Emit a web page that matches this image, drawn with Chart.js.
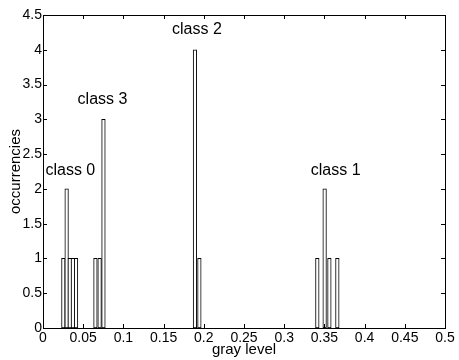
<!DOCTYPE html>
<html>
<head>
<meta charset="utf-8">
<title>gray level histogram</title>
<script src="https://cdn.jsdelivr.net/npm/chart.js@4/dist/chart.umd.min.js"></script>
<style>
  html, body { margin: 0; padding: 0; background: #fff; }
  #wrap { width: 459px; height: 360px; }
</style>
</head>
<body>
<div id="wrap"><canvas id="hist"></canvas></div>
<script>
/* ── Data: histogram bins (centre gray level, count) ── */
const grayLevels = [
  0.0253, 0.0294, 0.0333, 0.0372, 0.0411,   // class 0
  0.0652, 0.0704, 0.0752,                   // class 3
  0.1890, 0.1945,                           // class 2
  0.3412, 0.3503, 0.3562, 0.3661            // class 1
];
const counts = [
  1, 2, 1, 1, 1,
  1, 1, 3,
  4, 1,
  1, 2, 1, 1
];

/* ── Class labels (data coords) ── */
const classNames  = ['class 0', 'class 1', 'class 2', 'class 3'];
const classLabelX = [0.034, 0.364, 0.1915, 0.074];
const classLabelY = [2.26, 2.27, 4.29, 3.28];

/* ── Axis ticks ── */
const xTicks = [0, 0.05, 0.1, 0.15, 0.2, 0.25, 0.3, 0.35, 0.4, 0.45, 0.5];
const yTicks = [0, 0.5, 1, 1.5, 2, 2.5, 3, 3.5, 4, 4.5];

const FONT = 'Liberation Sans, Arial, Helvetica, sans-serif';

/* ── Box + inward tick marks, matlab style ── */
const boxTicks = {
  id: 'boxTicks',
  afterDraw(chart) {
    const { ctx, chartArea: a, scales: { x, y } } = chart;
    const len = 4;
    ctx.save();
    ctx.strokeStyle = '#000';
    ctx.lineWidth = 1;
    ctx.strokeRect(a.left + 0.5, a.top + 0.5, a.right - a.left, a.bottom - a.top);
    ctx.beginPath();
    xTicks.forEach(v => {
      const px = Math.round(x.getPixelForValue(v)) + 0.5;
      ctx.moveTo(px, a.bottom); ctx.lineTo(px, a.bottom - len);
      ctx.moveTo(px, a.top);    ctx.lineTo(px, a.top + len);
    });
    yTicks.forEach(v => {
      const py = Math.round(y.getPixelForValue(v)) + 0.5;
      ctx.moveTo(a.left, py);  ctx.lineTo(a.left + len, py);
      ctx.moveTo(a.right, py); ctx.lineTo(a.right - len, py);
    });
    ctx.stroke();

    // class labels
    ctx.fillStyle = '#000';
    ctx.font = '16px ' + FONT;
    ctx.textAlign = 'center';
    ctx.textBaseline = 'middle';
    classNames.forEach((t, i) => {
      ctx.fillText(t, x.getPixelForValue(classLabelX[i]), y.getPixelForValue(classLabelY[i]));
    });
    ctx.restore();
  }
};

new Chart(document.getElementById('hist'), {
  type: 'bar',
  data: {
    datasets: [{
      data: grayLevels.map((g, i) => ({ x: g, y: counts[i] })),
      backgroundColor: '#fff',
      borderColor: '#000',
      borderWidth: 1,
      borderSkipped: false,
      barThickness: 3.6,
    }]
  },
  options: {
    responsive: true,
    maintainAspectRatio: false,
    animation: false,
    layout: { padding: { top: 15, right: 14, left: 0, bottom: 0 } },
    plugins: { legend: { display: false }, tooltip: { enabled: false } },
    scales: {
      x: {
        type: 'linear', min: 0, max: 0.5, offset: false,
        grid: { display: false, drawTicks: false },
        border: { display: false },
        afterBuildTicks: s => { s.ticks = xTicks.map(v => ({ value: v })); },
        afterFit: s => { s.height = 32; },
        ticks: {
          color: '#000', padding: 2, maxRotation: 0, autoSkip: false,
          font: { family: FONT, size: 14 },
          callback: v => String(+v.toFixed(3))
        },
        title: {
          display: true, text: 'gray level', color: '#000',
          font: { family: FONT, size: 15 },
          padding: { top: 0, bottom: 1 }
        }
      },
      y: {
        type: 'linear', min: 0, max: 4.5,
        grid: { display: false, drawTicks: false },
        border: { display: false },
        afterBuildTicks: s => { s.ticks = yTicks.map(v => ({ value: v })); },
        afterFit: s => { s.width = 43; },
        ticks: {
          color: '#000', padding: 1, autoSkip: false,
          font: { family: FONT, size: 14 },
          callback: v => String(v)
        },
        title: {
          display: true, text: 'occurrencies', color: '#000',
          font: { family: FONT, size: 15 },
          padding: { top: 7, bottom: 0 }
        }
      }
    }
  },
  plugins: [boxTicks]
});
</script>
</body>
</html>
